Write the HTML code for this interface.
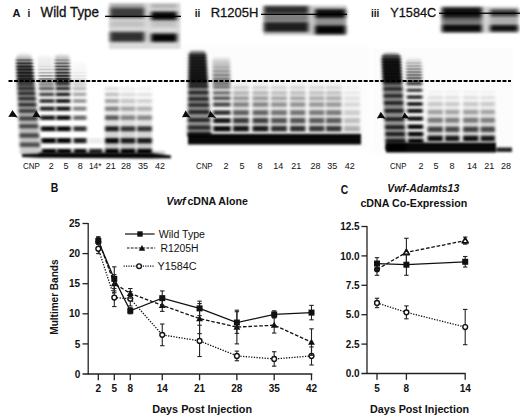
<!DOCTYPE html>
<html><head><meta charset="utf-8"><style>
html,body{margin:0;padding:0;background:#fff;width:520px;height:419px;overflow:hidden}
svg{display:block;font-family:"Liberation Sans", sans-serif}
</style></head><body>
<svg width="520" height="419" viewBox="0 0 520 419" font-family='"Liberation Sans", sans-serif'><defs><linearGradient id="sm1" x1="0" y1="0" x2="0" y2="1"><stop offset="0" stop-color="#000" stop-opacity="0"/><stop offset="0.04" stop-color="#000" stop-opacity="0.15"/><stop offset="0.1" stop-color="#000" stop-opacity="0.55"/><stop offset="0.15" stop-color="#000" stop-opacity="0.75"/><stop offset="0.28" stop-color="#000" stop-opacity="0.8"/><stop offset="0.34" stop-color="#000" stop-opacity="0.5"/><stop offset="0.65" stop-color="#000" stop-opacity="0.3"/><stop offset="1" stop-color="#000" stop-opacity="0.2"/></linearGradient><linearGradient id="sm2" x1="0" y1="0" x2="0" y2="1"><stop offset="0" stop-color="#000" stop-opacity="0"/><stop offset="0.15" stop-color="#000" stop-opacity="0.06"/><stop offset="0.6" stop-color="#000" stop-opacity="0.1"/><stop offset="1" stop-color="#000" stop-opacity="0.12"/></linearGradient><linearGradient id="sm3" x1="0" y1="0" x2="0" y2="1"><stop offset="0" stop-color="#000" stop-opacity="0"/><stop offset="0.1" stop-color="#000" stop-opacity="0.2"/><stop offset="0.4" stop-color="#000" stop-opacity="0.42"/><stop offset="0.8" stop-color="#000" stop-opacity="0.55"/><stop offset="1" stop-color="#000" stop-opacity="0.6"/></linearGradient><linearGradient id="sm3b" x1="0" y1="0" x2="0" y2="1"><stop offset="0" stop-color="#000" stop-opacity="0"/><stop offset="0.3" stop-color="#000" stop-opacity="0.03"/><stop offset="1" stop-color="#000" stop-opacity="0.05"/></linearGradient><linearGradient id="lbg1" x1="0" y1="0" x2="0" y2="1"><stop offset="0" stop-color="#000" stop-opacity="0"/><stop offset="0.3" stop-color="#000" stop-opacity="0.07622222222222223"/><stop offset="1" stop-color="#000" stop-opacity="0.23955555555555552"/></linearGradient><linearGradient id="lbg2" x1="0" y1="0" x2="0" y2="1"><stop offset="0" stop-color="#000" stop-opacity="0"/><stop offset="0.3" stop-color="#000" stop-opacity="0.07544444444444444"/><stop offset="1" stop-color="#000" stop-opacity="0.2371111111111111"/></linearGradient><linearGradient id="lbg3" x1="0" y1="0" x2="0" y2="1"><stop offset="0" stop-color="#000" stop-opacity="0"/><stop offset="0.3" stop-color="#000" stop-opacity="0.07544444444444444"/><stop offset="1" stop-color="#000" stop-opacity="0.2371111111111111"/></linearGradient><linearGradient id="lbg4" x1="0" y1="0" x2="0" y2="1"><stop offset="0" stop-color="#000" stop-opacity="0"/><stop offset="0.3" stop-color="#000" stop-opacity="0.015555555555555557"/><stop offset="1" stop-color="#000" stop-opacity="0.04888888888888889"/></linearGradient><linearGradient id="sm4" x1="0" y1="0" x2="0" y2="1"><stop offset="0" stop-color="#000" stop-opacity="0"/><stop offset="0.03" stop-color="#000" stop-opacity="0.5"/><stop offset="0.07" stop-color="#000" stop-opacity="0.88"/><stop offset="0.36" stop-color="#000" stop-opacity="0.93"/><stop offset="0.43" stop-color="#000" stop-opacity="0.5"/><stop offset="1" stop-color="#000" stop-opacity="0.38"/></linearGradient><linearGradient id="sm5" x1="0" y1="0" x2="0" y2="1"><stop offset="0" stop-color="#000" stop-opacity="0"/><stop offset="0.2" stop-color="#000" stop-opacity="0.2"/><stop offset="0.7" stop-color="#000" stop-opacity="0.38"/><stop offset="1" stop-color="#000" stop-opacity="0.4"/></linearGradient><linearGradient id="lbg5" x1="0" y1="0" x2="0" y2="1"><stop offset="0" stop-color="#000" stop-opacity="0"/><stop offset="0.3" stop-color="#000" stop-opacity="0.0696888888888889"/><stop offset="1" stop-color="#000" stop-opacity="0.21902222222222223"/></linearGradient><linearGradient id="lbg6" x1="0" y1="0" x2="0" y2="1"><stop offset="0" stop-color="#000" stop-opacity="0"/><stop offset="0.3" stop-color="#000" stop-opacity="0.06720000000000001"/><stop offset="1" stop-color="#000" stop-opacity="0.21120000000000003"/></linearGradient><linearGradient id="lbg7" x1="0" y1="0" x2="0" y2="1"><stop offset="0" stop-color="#000" stop-opacity="0"/><stop offset="0.3" stop-color="#000" stop-opacity="0.059111111111111114"/><stop offset="1" stop-color="#000" stop-opacity="0.1857777777777778"/></linearGradient><linearGradient id="lbg8" x1="0" y1="0" x2="0" y2="1"><stop offset="0" stop-color="#000" stop-opacity="0"/><stop offset="0.3" stop-color="#000" stop-opacity="0.059111111111111114"/><stop offset="1" stop-color="#000" stop-opacity="0.1857777777777778"/></linearGradient><linearGradient id="lbg9" x1="0" y1="0" x2="0" y2="1"><stop offset="0" stop-color="#000" stop-opacity="0"/><stop offset="0.3" stop-color="#000" stop-opacity="0.05600000000000001"/><stop offset="1" stop-color="#000" stop-opacity="0.17600000000000002"/></linearGradient><linearGradient id="lbg10" x1="0" y1="0" x2="0" y2="1"><stop offset="0" stop-color="#000" stop-opacity="0"/><stop offset="0.3" stop-color="#000" stop-opacity="0.05600000000000001"/><stop offset="1" stop-color="#000" stop-opacity="0.17600000000000002"/></linearGradient><linearGradient id="lbg11" x1="0" y1="0" x2="0" y2="1"><stop offset="0" stop-color="#000" stop-opacity="0"/><stop offset="0.3" stop-color="#000" stop-opacity="0.019911111111111112"/><stop offset="1" stop-color="#000" stop-opacity="0.06257777777777777"/></linearGradient><linearGradient id="sm6" x1="0" y1="0" x2="0" y2="1"><stop offset="0" stop-color="#000" stop-opacity="0"/><stop offset="0.03" stop-color="#000" stop-opacity="0.6"/><stop offset="0.08" stop-color="#000" stop-opacity="0.93"/><stop offset="0.29" stop-color="#000" stop-opacity="0.95"/><stop offset="0.35" stop-color="#000" stop-opacity="0.5"/><stop offset="1" stop-color="#000" stop-opacity="0.35"/></linearGradient><linearGradient id="sm7" x1="0" y1="0" x2="0" y2="1"><stop offset="0" stop-color="#000" stop-opacity="0"/><stop offset="0.2" stop-color="#000" stop-opacity="0.18"/><stop offset="0.7" stop-color="#000" stop-opacity="0.38"/><stop offset="1" stop-color="#000" stop-opacity="0.4"/></linearGradient><linearGradient id="lbg12" x1="0" y1="0" x2="0" y2="1"><stop offset="0" stop-color="#000" stop-opacity="0"/><stop offset="0.3" stop-color="#000" stop-opacity="0.07155555555555557"/><stop offset="1" stop-color="#000" stop-opacity="0.2248888888888889"/></linearGradient><linearGradient id="lbg13" x1="0" y1="0" x2="0" y2="1"><stop offset="0" stop-color="#000" stop-opacity="0"/><stop offset="0.3" stop-color="#000" stop-opacity="0.06797777777777778"/><stop offset="1" stop-color="#000" stop-opacity="0.21364444444444444"/></linearGradient><linearGradient id="lbg14" x1="0" y1="0" x2="0" y2="1"><stop offset="0" stop-color="#000" stop-opacity="0"/><stop offset="0.3" stop-color="#000" stop-opacity="0.07155555555555557"/><stop offset="1" stop-color="#000" stop-opacity="0.2248888888888889"/></linearGradient><linearGradient id="lbg15" x1="0" y1="0" x2="0" y2="1"><stop offset="0" stop-color="#000" stop-opacity="0"/><stop offset="0.3" stop-color="#000" stop-opacity="0.06797777777777778"/><stop offset="1" stop-color="#000" stop-opacity="0.21364444444444444"/></linearGradient><filter id="b5" x="-20%" y="-20%" width="140%" height="140%"><feGaussianBlur stdDeviation="0.5"/></filter><filter id="b6" x="-20%" y="-20%" width="140%" height="140%"><feGaussianBlur stdDeviation="0.6"/></filter><filter id="b7" x="-20%" y="-20%" width="140%" height="140%"><feGaussianBlur stdDeviation="0.7"/></filter><filter id="b8" x="-20%" y="-20%" width="140%" height="140%"><feGaussianBlur stdDeviation="0.8"/></filter><filter id="b10" x="-20%" y="-20%" width="140%" height="140%"><feGaussianBlur stdDeviation="1.0"/></filter><filter id="b12" x="-20%" y="-20%" width="140%" height="140%"><feGaussianBlur stdDeviation="1.2"/></filter><filter id="b15" x="-20%" y="-20%" width="140%" height="140%"><feGaussianBlur stdDeviation="1.5"/></filter><filter id="b20" x="-20%" y="-20%" width="140%" height="140%"><feGaussianBlur stdDeviation="2.0"/></filter><filter id="f18_15" x="-30%" y="-30%" width="160%" height="160%"><feGaussianBlur stdDeviation="2.0 1.6"/></filter><filter id="ftop" x="-30%" y="-30%" width="160%" height="160%"><feGaussianBlur stdDeviation="1.35 0.4"/></filter><filter id="f12_12" x="-30%" y="-30%" width="160%" height="160%"><feGaussianBlur stdDeviation="1.2 1.2"/></filter><filter id="f14_8" x="-30%" y="-30%" width="160%" height="160%"><feGaussianBlur stdDeviation="1.35 0.8"/></filter></defs><rect width="520" height="419" fill="#fff"/><g filter="url(#b10)">
<rect x="109.00" y="3.00" width="71.50" height="46.00" fill="#000" fill-opacity="0.140" />
</g>
<g filter="url(#f18_15)">
<rect x="110.00" y="4.00" width="34.50" height="4.00" fill="#000" fill-opacity="0.250" />
<rect x="110.00" y="8.00" width="34.50" height="10.00" fill="#000" fill-opacity="0.720" />
<rect x="110.00" y="21.00" width="34.50" height="6.00" fill="#000" fill-opacity="0.120" />
<rect x="110.00" y="31.80" width="34.50" height="10.00" fill="#000" fill-opacity="0.780" />
</g>
<g filter="url(#f18_15)">
<rect x="151.00" y="4.00" width="26.00" height="4.00" fill="#000" fill-opacity="0.200" />
<rect x="151.00" y="11.55" width="26.00" height="8.50" fill="#000" fill-opacity="0.970" />
<rect x="151.00" y="21.00" width="26.00" height="6.00" fill="#000" fill-opacity="0.120" />
<rect x="151.00" y="33.45" width="26.00" height="8.50" fill="#000" fill-opacity="0.980" />
</g>
<g filter="url(#b10)">
<rect x="263.50" y="5.40" width="83.10" height="29.90" fill="#000" fill-opacity="0.200" />
</g>
<g filter="url(#f18_15)">
<rect x="264.00" y="6.00" width="44.50" height="8.00" fill="#000" fill-opacity="0.780" />
<rect x="264.00" y="15.00" width="44.50" height="6.00" fill="#000" fill-opacity="0.400" />
<rect x="264.00" y="22.00" width="44.50" height="10.00" fill="#000" fill-opacity="0.850" />
</g>
<g filter="url(#f18_15)">
<rect x="315.00" y="9.00" width="30.50" height="9.00" fill="#000" fill-opacity="0.940" />
<rect x="315.00" y="18.50" width="30.50" height="6.00" fill="#000" fill-opacity="0.300" />
<rect x="315.00" y="25.30" width="30.50" height="9.00" fill="#000" fill-opacity="0.980" />
</g>
<g filter="url(#b10)">
<rect x="441.00" y="6.50" width="77.50" height="26.50" fill="#000" fill-opacity="0.160" />
</g>
<g filter="url(#f18_15)">
<rect x="442.00" y="7.25" width="40.00" height="10.50" fill="#000" fill-opacity="0.930" />
<rect x="442.00" y="18.00" width="40.00" height="5.00" fill="#000" fill-opacity="0.500" />
<rect x="442.00" y="24.20" width="40.00" height="8.00" fill="#000" fill-opacity="0.950" />
</g>
<g filter="url(#f18_15)">
<rect x="490.00" y="9.25" width="28.00" height="7.50" fill="#000" fill-opacity="0.720" />
<rect x="490.00" y="18.00" width="28.00" height="5.00" fill="#000" fill-opacity="0.200" />
<rect x="490.00" y="24.70" width="28.00" height="7.00" fill="#000" fill-opacity="0.920" />
</g>
<rect x="105.00" y="15.70" width="76.00" height="1.30" fill="#000" fill-opacity="1.000" />
<rect x="261.00" y="13.70" width="86.00" height="1.30" fill="#000" fill-opacity="1.000" />
<rect x="439.00" y="12.60" width="81.00" height="1.30" fill="#000" fill-opacity="1.000" />
<g filter="url(#b20)">
<rect x="183.00" y="44.00" width="186.00" height="104.00" fill="#000" fill-opacity="0.012" />
<rect x="372.00" y="48.00" width="141.00" height="106.00" fill="#000" fill-opacity="0.012" />
</g>
<g filter="url(#f14_8)">
<path d="M20.11,154.00 L16.13,60.00 Q16.13,52.00 24.13,52.00 L24.02,52.00 Q32.02,52.00 32.02,60.00 L40.90,154.00 Z" fill="url(#sm1)"/>
<path d="M17.35,83.45 L34.76,83.45 L34.94,85.55 L17.44,85.55 Z" fill="#000" fill-opacity="0.600"/>
<path d="M17.49,87.05 L35.07,87.05 L35.33,89.95 L17.61,89.95 Z" fill="#000" fill-opacity="0.680"/>
<path d="M17.68,91.85 L35.49,91.85 L35.76,94.95 L17.80,94.95 Z" fill="#000" fill-opacity="0.700"/>
<path d="M17.88,97.05 L35.94,97.05 L36.23,100.35 L18.01,100.35 Z" fill="#000" fill-opacity="0.700"/>
<path d="M18.12,102.95 L36.46,102.95 L36.76,106.45 L18.25,106.45 Z" fill="#000" fill-opacity="0.700"/>
<path d="M18.36,109.15 L37.00,109.15 L37.32,112.85 L18.50,112.85 Z" fill="#000" fill-opacity="0.680"/>
<path d="M18.65,116.55 L37.64,116.55 L37.98,120.45 L18.80,120.45 Z" fill="#000" fill-opacity="0.650"/>
<path d="M18.95,124.25 L38.31,124.25 L38.67,128.35 L19.11,128.35 Z" fill="#000" fill-opacity="0.620"/>
<path d="M19.30,133.25 L39.09,133.25 L39.48,137.75 L19.47,137.75 Z" fill="#000" fill-opacity="0.620"/>
<path d="M19.66,142.45 L39.89,142.45 L40.28,146.95 L19.83,146.95 Z" fill="#000" fill-opacity="0.600"/>
</g>
<g filter="url(#ftop)">
<path d="M16.41,59.25 L32.65,59.25 L32.79,60.75 L16.47,60.75 Z" fill="#000" fill-opacity="0.350"/>
<path d="M16.54,62.45 L32.93,62.45 L33.06,63.95 L16.59,63.95 Z" fill="#000" fill-opacity="0.450"/>
<path d="M16.66,65.65 L33.21,65.65 L33.34,67.15 L16.72,67.15 Z" fill="#000" fill-opacity="0.500"/>
<path d="M16.79,68.85 L33.49,68.85 L33.62,70.35 L16.84,70.35 Z" fill="#000" fill-opacity="0.500"/>
<path d="M16.91,72.05 L33.77,72.05 L33.90,73.55 L16.97,73.55 Z" fill="#000" fill-opacity="0.500"/>
<path d="M17.03,75.15 L34.04,75.15 L34.17,76.65 L17.09,76.65 Z" fill="#000" fill-opacity="0.500"/>
<path d="M17.15,78.25 L34.31,78.25 L34.44,79.75 L17.21,79.75 Z" fill="#000" fill-opacity="0.500"/>
<path d="M17.25,80.75 L34.53,80.75 L34.66,82.25 L17.31,82.25 Z" fill="#000" fill-opacity="0.500"/>
</g>
<g filter="url(#f14_8)">
<path d="M38.83,85.00 L37.43,59.00 Q37.43,54.00 42.43,54.00 L47.71,54.00 Q52.71,54.00 52.71,59.00 L53.91,85.00 Z" fill="url(#sm2)"/>
<path d="M38.73,82.95 L53.84,82.95 L53.93,85.45 L38.85,85.45 Z" fill="#000" fill-opacity="0.550"/>
<path d="M38.91,86.85 L53.99,86.85 L54.12,90.15 L39.06,90.15 Z" fill="#000" fill-opacity="0.650"/>
<path d="M39.17,92.60 L54.21,92.60 L54.35,96.20 L39.33,96.20 Z" fill="#000" fill-opacity="0.720"/>
<path d="M39.46,99.05 L54.46,99.05 L54.62,102.95 L39.63,102.95 Z" fill="#000" fill-opacity="0.780"/>
<path d="M39.80,106.60 L54.76,106.60 L54.92,110.80 L39.99,110.80 Z" fill="#000" fill-opacity="0.850"/>
<path d="M40.19,115.40 L55.10,115.40 L55.28,120.00 L40.40,120.00 Z" fill="#000" fill-opacity="0.900"/>
<path d="M40.68,126.25 L55.52,126.25 L55.72,131.35 L40.91,131.35 Z" fill="#000" fill-opacity="0.950"/>
<path d="M41.21,138.05 L55.98,138.05 L56.19,143.35 L41.45,143.35 Z" fill="#000" fill-opacity="0.970"/>
<path d="M41.69,148.75 L56.40,148.75 L56.60,153.85 L41.92,153.85 Z" fill="#000" fill-opacity="0.970"/>
</g>
<g filter="url(#ftop)">
<path d="M37.96,65.70 L53.16,65.70 L53.22,67.10 L38.02,67.10 Z" fill="#000" fill-opacity="0.050"/>
<path d="M38.10,68.85 L53.29,68.85 L53.34,70.35 L38.17,70.35 Z" fill="#000" fill-opacity="0.120"/>
<path d="M38.24,72.00 L53.41,72.00 L53.47,73.60 L38.31,73.60 Z" fill="#000" fill-opacity="0.220"/>
<path d="M38.38,75.05 L53.53,75.05 L53.59,76.75 L38.45,76.75 Z" fill="#000" fill-opacity="0.320"/>
<path d="M38.51,78.10 L53.65,78.10 L53.72,79.90 L38.60,79.90 Z" fill="#000" fill-opacity="0.400"/>
<path d="M38.62,80.50 L53.74,80.50 L53.82,82.50 L38.71,82.50 Z" fill="#000" fill-opacity="0.450"/>
</g>
<g filter="url(#f14_8)">
<path d="M55.55,85.00 L54.83,58.50 Q54.83,53.50 59.83,53.50 L64.46,53.50 Q69.46,53.50 69.46,58.50 L70.03,85.00 Z" fill="url(#sm3)"/>
<path d="M55.51,82.95 L69.99,82.95 L70.04,85.45 L55.57,85.45 Z" fill="#000" fill-opacity="0.750"/>
<path d="M55.60,86.85 L70.06,86.85 L70.12,90.15 L55.67,90.15 Z" fill="#000" fill-opacity="0.850"/>
<path d="M55.73,92.60 L70.17,92.60 L70.23,96.20 L55.81,96.20 Z" fill="#000" fill-opacity="0.880"/>
<path d="M55.88,99.05 L70.28,99.05 L70.35,102.95 L55.97,102.95 Z" fill="#000" fill-opacity="0.900"/>
<path d="M56.05,106.60 L70.42,106.60 L70.49,110.80 L56.15,110.80 Z" fill="#000" fill-opacity="0.920"/>
<path d="M56.25,115.40 L70.58,115.40 L70.66,120.00 L56.36,120.00 Z" fill="#000" fill-opacity="0.950"/>
<path d="M56.50,126.25 L70.77,126.25 L70.86,131.35 L56.62,131.35 Z" fill="#000" fill-opacity="0.970"/>
<path d="M56.78,138.05 L70.98,138.05 L71.08,143.35 L56.90,143.35 Z" fill="#000" fill-opacity="0.970"/>
<path d="M57.02,148.75 L71.18,148.75 L71.27,153.85 L57.14,153.85 Z" fill="#000" fill-opacity="0.970"/>
</g>
<g filter="url(#ftop)">
<path d="M54.96,59.30 L69.57,59.30 L69.59,60.70 L55.00,60.70 Z" fill="#000" fill-opacity="0.200"/>
<path d="M55.04,62.50 L69.62,62.50 L69.65,63.90 L55.07,63.90 Z" fill="#000" fill-opacity="0.350"/>
<path d="M55.11,65.70 L69.68,65.70 L69.71,67.10 L55.14,67.10 Z" fill="#000" fill-opacity="0.450"/>
<path d="M55.18,68.85 L69.74,68.85 L69.77,70.35 L55.22,70.35 Z" fill="#000" fill-opacity="0.500"/>
<path d="M55.26,72.00 L69.80,72.00 L69.82,73.60 L55.29,73.60 Z" fill="#000" fill-opacity="0.550"/>
<path d="M55.33,75.05 L69.85,75.05 L69.88,76.75 L55.37,76.75 Z" fill="#000" fill-opacity="0.600"/>
<path d="M55.40,78.10 L69.91,78.10 L69.94,79.90 L55.44,79.90 Z" fill="#000" fill-opacity="0.650"/>
<path d="M55.45,80.50 L69.95,80.50 L69.98,82.50 L55.50,82.50 Z" fill="#000" fill-opacity="0.650"/>
</g>
<g filter="url(#f14_8)">
<path d="M72.79,85.00 L72.44,64.00 Q72.44,60.00 76.44,60.00 L82.02,60.00 Q86.02,60.00 86.02,64.00 L86.19,85.00 Z" fill="url(#sm3b)"/>
<path d="M72.76,82.95 L86.18,82.95 L86.20,85.45 L72.80,85.45 Z" fill="#000" fill-opacity="0.200"/>
<path d="M72.82,86.85 L86.21,86.85 L86.23,90.15 L72.86,90.15 Z" fill="#000" fill-opacity="0.280"/>
<path d="M72.90,92.60 L86.25,92.60 L86.27,96.20 L72.95,96.20 Z" fill="#000" fill-opacity="0.340"/>
<path d="M72.99,99.05 L86.29,99.05 L86.32,102.95 L73.04,102.95 Z" fill="#000" fill-opacity="0.400"/>
<path d="M73.09,106.60 L86.35,106.60 L86.38,110.80 L73.15,110.80 Z" fill="#000" fill-opacity="0.480"/>
<path d="M73.22,115.40 L86.41,115.40 L86.44,120.00 L73.28,120.00 Z" fill="#000" fill-opacity="0.580"/>
<path d="M73.37,126.25 L86.48,126.25 L86.52,131.35 L73.44,131.35 Z" fill="#000" fill-opacity="0.800"/>
<path d="M73.53,138.05 L86.57,138.05 L86.60,143.35 L73.61,143.35 Z" fill="#000" fill-opacity="0.880"/>
<path d="M73.68,148.75 L86.64,148.75 L86.68,153.85 L73.75,153.85 Z" fill="#000" fill-opacity="0.950"/>
</g>
<g filter="url(#ftop)">
<path d="M72.61,72.00 L86.10,72.00 L86.12,73.60 L72.63,73.60 Z" fill="#000" fill-opacity="0.040"/>
<path d="M72.65,75.05 L86.13,75.05 L86.14,76.75 L72.67,76.75 Z" fill="#000" fill-opacity="0.060"/>
<path d="M72.69,78.10 L86.15,78.10 L86.16,79.90 L72.72,79.90 Z" fill="#000" fill-opacity="0.080"/>
<path d="M72.73,80.50 L86.16,80.50 L86.18,82.50 L72.75,82.50 Z" fill="#000" fill-opacity="0.120"/>
</g>
<g filter="url(#f14_8)">
<path d="M89.00,138.05 L102.50,138.05 L102.50,143.35 L89.00,143.35 Z" fill="#000" fill-opacity="0.080"/>
<path d="M89.00,148.75 L102.50,148.75 L102.50,153.85 L89.00,153.85 Z" fill="#000" fill-opacity="0.850"/>
</g>
<g filter="url(#f14_8)">
<path d="M105.00,154.30 L105.00,86.50 Q105.00,86.50 105.00,86.50 L119.00,86.50 Q119.00,86.50 119.00,86.50 L119.00,154.30 Z" fill="url(#lbg1)"/>
<path d="M105.00,86.85 L119.00,86.85 L119.00,90.15 L105.00,90.15 Z" fill="#000" fill-opacity="0.120"/>
<path d="M105.00,92.60 L119.00,92.60 L119.00,96.20 L105.00,96.20 Z" fill="#000" fill-opacity="0.220"/>
<path d="M105.00,99.05 L119.00,99.05 L119.00,102.95 L105.00,102.95 Z" fill="#000" fill-opacity="0.330"/>
<path d="M105.00,106.60 L119.00,106.60 L119.00,110.80 L105.00,110.80 Z" fill="#000" fill-opacity="0.450"/>
<path d="M105.00,115.40 L119.00,115.40 L119.00,120.00 L105.00,120.00 Z" fill="#000" fill-opacity="0.600"/>
<path d="M105.00,126.25 L119.00,126.25 L119.00,131.35 L105.00,131.35 Z" fill="#000" fill-opacity="0.850"/>
<path d="M105.00,138.05 L119.00,138.05 L119.00,143.35 L105.00,143.35 Z" fill="#000" fill-opacity="0.950"/>
<path d="M105.00,148.75 L119.00,148.75 L119.00,153.85 L105.00,153.85 Z" fill="#000" fill-opacity="0.980"/>
</g>
<g filter="url(#f14_8)">
<path d="M120.50,154.30 L120.50,86.50 Q120.50,86.50 120.50,86.50 L135.50,86.50 Q135.50,86.50 135.50,86.50 L135.50,154.30 Z" fill="url(#lbg2)"/>
<path d="M120.50,86.85 L135.50,86.85 L135.50,90.15 L120.50,90.15 Z" fill="#000" fill-opacity="0.060"/>
<path d="M120.50,92.60 L135.50,92.60 L135.50,96.20 L120.50,96.20 Z" fill="#000" fill-opacity="0.100"/>
<path d="M120.50,99.05 L135.50,99.05 L135.50,102.95 L120.50,102.95 Z" fill="#000" fill-opacity="0.180"/>
<path d="M120.50,106.60 L135.50,106.60 L135.50,110.80 L120.50,110.80 Z" fill="#000" fill-opacity="0.300"/>
<path d="M120.50,115.40 L135.50,115.40 L135.50,120.00 L120.50,120.00 Z" fill="#000" fill-opacity="0.420"/>
<path d="M120.50,126.25 L135.50,126.25 L135.50,131.35 L120.50,131.35 Z" fill="#000" fill-opacity="0.750"/>
<path d="M120.50,138.05 L135.50,138.05 L135.50,143.35 L120.50,143.35 Z" fill="#000" fill-opacity="0.870"/>
<path d="M120.50,148.75 L135.50,148.75 L135.50,153.85 L120.50,153.85 Z" fill="#000" fill-opacity="0.970"/>
</g>
<g filter="url(#f14_8)">
<path d="M137.00,154.30 L137.00,92.40 Q137.00,92.40 137.00,92.40 L152.00,92.40 Q152.00,92.40 152.00,92.40 L152.00,154.30 Z" fill="url(#lbg3)"/>
<path d="M137.00,86.85 L152.00,86.85 L152.00,90.15 L137.00,90.15 Z" fill="#000" fill-opacity="0.050"/>
<path d="M137.00,92.60 L152.00,92.60 L152.00,96.20 L137.00,96.20 Z" fill="#000" fill-opacity="0.100"/>
<path d="M137.00,99.05 L152.00,99.05 L152.00,102.95 L137.00,102.95 Z" fill="#000" fill-opacity="0.150"/>
<path d="M137.00,106.60 L152.00,106.60 L152.00,110.80 L137.00,110.80 Z" fill="#000" fill-opacity="0.250"/>
<path d="M137.00,115.40 L152.00,115.40 L152.00,120.00 L137.00,120.00 Z" fill="#000" fill-opacity="0.400"/>
<path d="M137.00,126.25 L152.00,126.25 L152.00,131.35 L137.00,131.35 Z" fill="#000" fill-opacity="0.750"/>
<path d="M137.00,138.05 L152.00,138.05 L152.00,143.35 L137.00,143.35 Z" fill="#000" fill-opacity="0.870"/>
<path d="M137.00,148.75 L152.00,148.75 L152.00,153.85 L137.00,153.85 Z" fill="#000" fill-opacity="0.970"/>
</g>
<g filter="url(#f14_8)">
<path d="M152.50,155.60 L152.50,150.60 Q152.50,150.60 152.50,150.60 L165.00,150.60 Q165.00,150.60 165.00,150.60 L165.00,155.60 Z" fill="url(#lbg4)"/>
<path d="M152.50,150.85 L165.00,150.85 L165.00,154.35 L152.50,154.35 Z" fill="#000" fill-opacity="0.200"/>
</g>
<g filter="url(#f12_12)">
<polygon points="22,154 38,153.6 40,152.6 150,152.8 171,155.4 171,158.2 150,158.4 40,157.8 22,157.0" fill="#000" fill-opacity="0.97"/>
</g>
<g filter="url(#f14_8)">
<path d="M187.44,137.00 L188.76,55.50 Q188.76,49.50 194.76,49.50 L200.22,49.50 Q206.22,49.50 206.22,55.50 L211.38,137.00 Z" fill="url(#sm4)"/>
<path d="M188.28,81.60 L208.11,81.60 L208.23,83.60 L188.25,83.60 Z" fill="#000" fill-opacity="0.600"/>
<path d="M188.23,84.85 L208.31,84.85 L208.49,87.95 L188.18,87.95 Z" fill="#000" fill-opacity="0.700"/>
<path d="M188.14,90.95 L208.67,90.95 L208.86,94.25 L188.09,94.25 Z" fill="#000" fill-opacity="0.720"/>
<path d="M188.04,97.15 L209.03,97.15 L209.24,100.65 L187.99,100.65 Z" fill="#000" fill-opacity="0.720"/>
<path d="M187.95,103.15 L209.39,103.15 L209.60,106.85 L187.90,106.85 Z" fill="#000" fill-opacity="0.720"/>
<path d="M187.85,110.05 L209.79,110.05 L210.02,113.95 L187.79,113.95 Z" fill="#000" fill-opacity="0.720"/>
<path d="M187.73,117.95 L210.26,117.95 L210.50,122.05 L187.67,122.05 Z" fill="#000" fill-opacity="0.720"/>
<path d="M187.62,125.55 L210.71,125.55 L210.96,129.85 L187.55,129.85 Z" fill="#000" fill-opacity="0.720"/>
<path d="M187.52,131.85 L211.08,131.85 L211.33,136.15 L187.46,136.15 Z" fill="#000" fill-opacity="0.720"/>
</g>
<g filter="url(#ftop)">
<path d="M188.69,54.00 L206.49,54.00 L206.60,56.00 L188.66,56.00 Z" fill="#000" fill-opacity="0.100"/>
<path d="M188.65,57.00 L206.66,57.00 L206.78,59.00 L188.62,59.00 Z" fill="#000" fill-opacity="0.100"/>
<path d="M188.60,60.00 L206.84,60.00 L206.96,62.00 L188.57,62.00 Z" fill="#000" fill-opacity="0.100"/>
<path d="M188.56,63.00 L207.02,63.00 L207.13,65.00 L188.53,65.00 Z" fill="#000" fill-opacity="0.100"/>
<path d="M188.51,66.00 L207.19,66.00 L207.31,68.00 L188.48,68.00 Z" fill="#000" fill-opacity="0.100"/>
<path d="M188.47,69.00 L207.37,69.00 L207.49,71.00 L188.44,71.00 Z" fill="#000" fill-opacity="0.100"/>
<path d="M188.42,72.00 L207.55,72.00 L207.67,74.00 L188.39,74.00 Z" fill="#000" fill-opacity="0.100"/>
<path d="M188.38,75.00 L207.72,75.00 L207.84,77.00 L188.34,77.00 Z" fill="#000" fill-opacity="0.100"/>
<path d="M188.33,78.00 L207.90,78.00 L208.02,80.00 L188.30,80.00 Z" fill="#000" fill-opacity="0.100"/>
</g>
<g filter="url(#f14_8)">
<path d="M212.83,86.00 L212.47,60.00 Q212.47,56.00 216.47,56.00 L225.97,56.00 Q229.97,56.00 229.97,60.00 L230.33,86.00 Z" fill="url(#sm5)"/>
<path d="M212.78,81.95 L230.28,81.95 L230.31,84.05 L212.81,84.05 Z" fill="#000" fill-opacity="0.300"/>
<path d="M212.83,85.85 L230.33,85.85 L230.37,89.15 L212.87,89.15 Z" fill="#000" fill-opacity="0.500"/>
<path d="M212.89,91.05 L230.39,91.05 L230.44,94.75 L212.94,94.75 Z" fill="#000" fill-opacity="0.550"/>
<path d="M212.96,96.25 L230.46,96.25 L230.50,100.35 L213.00,100.35 Z" fill="#000" fill-opacity="0.650"/>
<path d="M213.03,102.25 L230.53,102.25 L230.58,106.75 L213.08,106.75 Z" fill="#000" fill-opacity="0.700"/>
<path d="M213.12,110.15 L230.62,110.15 L230.68,115.05 L213.18,115.05 Z" fill="#000" fill-opacity="0.800"/>
<path d="M213.22,117.95 L230.72,117.95 L230.78,123.25 L213.28,123.25 Z" fill="#000" fill-opacity="0.900"/>
<path d="M213.31,125.95 L230.81,125.95 L230.88,131.45 L213.38,131.45 Z" fill="#000" fill-opacity="0.950"/>
</g>
<g filter="url(#ftop)">
<path d="M212.59,66.25 L230.09,66.25 L230.11,67.75 L212.61,67.75 Z" fill="#000" fill-opacity="0.060"/>
<path d="M212.64,70.25 L230.14,70.25 L230.16,71.75 L212.66,71.75 Z" fill="#000" fill-opacity="0.100"/>
<path d="M212.69,74.20 L230.19,74.20 L230.21,75.80 L212.71,75.80 Z" fill="#000" fill-opacity="0.150"/>
<path d="M212.74,78.15 L230.24,78.15 L230.26,79.85 L212.76,79.85 Z" fill="#000" fill-opacity="0.200"/>
</g>
<g filter="url(#f14_8)">
<path d="M233.00,131.70 L233.00,81.00 Q233.00,81.00 233.00,81.00 L249.00,81.00 Q249.00,81.00 249.00,81.00 L249.00,131.70 Z" fill="url(#lbg5)"/>
<path d="M233.00,81.95 L249.00,81.95 L249.00,84.05 L233.00,84.05 Z" fill="#000" fill-opacity="0.067"/>
<path d="M233.00,85.85 L249.00,85.85 L249.00,89.15 L233.00,89.15 Z" fill="#000" fill-opacity="0.157"/>
<path d="M233.00,91.05 L249.00,91.05 L249.00,94.75 L233.00,94.75 Z" fill="#000" fill-opacity="0.246"/>
<path d="M233.00,96.25 L249.00,96.25 L249.00,100.35 L233.00,100.35 Z" fill="#000" fill-opacity="0.336"/>
<path d="M233.00,102.25 L249.00,102.25 L249.00,106.75 L233.00,106.75 Z" fill="#000" fill-opacity="0.426"/>
<path d="M233.00,110.15 L249.00,110.15 L249.00,115.05 L233.00,115.05 Z" fill="#000" fill-opacity="0.560"/>
<path d="M233.00,117.95 L249.00,117.95 L249.00,123.25 L233.00,123.25 Z" fill="#000" fill-opacity="0.717"/>
<path d="M233.00,125.95 L249.00,125.95 L249.00,131.45 L233.00,131.45 Z" fill="#000" fill-opacity="0.896"/>
</g>
<g filter="url(#f14_8)">
<path d="M252.50,131.70 L252.50,81.00 Q252.50,81.00 252.50,81.00 L268.50,81.00 Q268.50,81.00 268.50,81.00 L268.50,131.70 Z" fill="url(#lbg6)"/>
<path d="M252.50,81.95 L268.50,81.95 L268.50,84.05 L252.50,84.05 Z" fill="#000" fill-opacity="0.065"/>
<path d="M252.50,85.85 L268.50,85.85 L268.50,89.15 L252.50,89.15 Z" fill="#000" fill-opacity="0.151"/>
<path d="M252.50,91.05 L268.50,91.05 L268.50,94.75 L252.50,94.75 Z" fill="#000" fill-opacity="0.238"/>
<path d="M252.50,96.25 L268.50,96.25 L268.50,100.35 L252.50,100.35 Z" fill="#000" fill-opacity="0.324"/>
<path d="M252.50,102.25 L268.50,102.25 L268.50,106.75 L252.50,106.75 Z" fill="#000" fill-opacity="0.410"/>
<path d="M252.50,110.15 L268.50,110.15 L268.50,115.05 L252.50,115.05 Z" fill="#000" fill-opacity="0.540"/>
<path d="M252.50,117.95 L268.50,117.95 L268.50,123.25 L252.50,123.25 Z" fill="#000" fill-opacity="0.691"/>
<path d="M252.50,125.95 L268.50,125.95 L268.50,131.45 L252.50,131.45 Z" fill="#000" fill-opacity="0.864"/>
</g>
<g filter="url(#f14_8)">
<path d="M271.00,131.70 L271.00,81.00 Q271.00,81.00 271.00,81.00 L287.00,81.00 Q287.00,81.00 287.00,81.00 L287.00,131.70 Z" fill="url(#lbg7)"/>
<path d="M271.00,81.95 L287.00,81.95 L287.00,84.05 L271.00,84.05 Z" fill="#000" fill-opacity="0.057"/>
<path d="M271.00,85.85 L287.00,85.85 L287.00,89.15 L271.00,89.15 Z" fill="#000" fill-opacity="0.133"/>
<path d="M271.00,91.05 L287.00,91.05 L287.00,94.75 L271.00,94.75 Z" fill="#000" fill-opacity="0.209"/>
<path d="M271.00,96.25 L287.00,96.25 L287.00,100.35 L271.00,100.35 Z" fill="#000" fill-opacity="0.285"/>
<path d="M271.00,102.25 L287.00,102.25 L287.00,106.75 L271.00,106.75 Z" fill="#000" fill-opacity="0.361"/>
<path d="M271.00,110.15 L287.00,110.15 L287.00,115.05 L271.00,115.05 Z" fill="#000" fill-opacity="0.475"/>
<path d="M271.00,117.95 L287.00,117.95 L287.00,123.25 L271.00,123.25 Z" fill="#000" fill-opacity="0.608"/>
<path d="M271.00,125.95 L287.00,125.95 L287.00,131.45 L271.00,131.45 Z" fill="#000" fill-opacity="0.760"/>
</g>
<g filter="url(#f14_8)">
<path d="M290.00,131.70 L290.00,81.00 Q290.00,81.00 290.00,81.00 L305.50,81.00 Q305.50,81.00 305.50,81.00 L305.50,131.70 Z" fill="url(#lbg8)"/>
<path d="M290.00,81.95 L305.50,81.95 L305.50,84.05 L290.00,84.05 Z" fill="#000" fill-opacity="0.057"/>
<path d="M290.00,85.85 L305.50,85.85 L305.50,89.15 L290.00,89.15 Z" fill="#000" fill-opacity="0.133"/>
<path d="M290.00,91.05 L305.50,91.05 L305.50,94.75 L290.00,94.75 Z" fill="#000" fill-opacity="0.209"/>
<path d="M290.00,96.25 L305.50,96.25 L305.50,100.35 L290.00,100.35 Z" fill="#000" fill-opacity="0.285"/>
<path d="M290.00,102.25 L305.50,102.25 L305.50,106.75 L290.00,106.75 Z" fill="#000" fill-opacity="0.361"/>
<path d="M290.00,110.15 L305.50,110.15 L305.50,115.05 L290.00,115.05 Z" fill="#000" fill-opacity="0.475"/>
<path d="M290.00,117.95 L305.50,117.95 L305.50,123.25 L290.00,123.25 Z" fill="#000" fill-opacity="0.608"/>
<path d="M290.00,125.95 L305.50,125.95 L305.50,131.45 L290.00,131.45 Z" fill="#000" fill-opacity="0.760"/>
</g>
<g filter="url(#f14_8)">
<path d="M309.00,131.70 L309.00,81.00 Q309.00,81.00 309.00,81.00 L324.50,81.00 Q324.50,81.00 324.50,81.00 L324.50,131.70 Z" fill="url(#lbg9)"/>
<path d="M309.00,81.95 L324.50,81.95 L324.50,84.05 L309.00,84.05 Z" fill="#000" fill-opacity="0.054"/>
<path d="M309.00,85.85 L324.50,85.85 L324.50,89.15 L309.00,89.15 Z" fill="#000" fill-opacity="0.126"/>
<path d="M309.00,91.05 L324.50,91.05 L324.50,94.75 L309.00,94.75 Z" fill="#000" fill-opacity="0.198"/>
<path d="M309.00,96.25 L324.50,96.25 L324.50,100.35 L309.00,100.35 Z" fill="#000" fill-opacity="0.270"/>
<path d="M309.00,102.25 L324.50,102.25 L324.50,106.75 L309.00,106.75 Z" fill="#000" fill-opacity="0.342"/>
<path d="M309.00,110.15 L324.50,110.15 L324.50,115.05 L309.00,115.05 Z" fill="#000" fill-opacity="0.450"/>
<path d="M309.00,117.95 L324.50,117.95 L324.50,123.25 L309.00,123.25 Z" fill="#000" fill-opacity="0.576"/>
<path d="M309.00,125.95 L324.50,125.95 L324.50,131.45 L309.00,131.45 Z" fill="#000" fill-opacity="0.720"/>
</g>
<g filter="url(#f14_8)">
<path d="M326.00,131.70 L326.00,81.00 Q326.00,81.00 326.00,81.00 L341.50,81.00 Q341.50,81.00 341.50,81.00 L341.50,131.70 Z" fill="url(#lbg10)"/>
<path d="M326.00,81.95 L341.50,81.95 L341.50,84.05 L326.00,84.05 Z" fill="#000" fill-opacity="0.054"/>
<path d="M326.00,85.85 L341.50,85.85 L341.50,89.15 L326.00,89.15 Z" fill="#000" fill-opacity="0.126"/>
<path d="M326.00,91.05 L341.50,91.05 L341.50,94.75 L326.00,94.75 Z" fill="#000" fill-opacity="0.198"/>
<path d="M326.00,96.25 L341.50,96.25 L341.50,100.35 L326.00,100.35 Z" fill="#000" fill-opacity="0.270"/>
<path d="M326.00,102.25 L341.50,102.25 L341.50,106.75 L326.00,106.75 Z" fill="#000" fill-opacity="0.342"/>
<path d="M326.00,110.15 L341.50,110.15 L341.50,115.05 L326.00,115.05 Z" fill="#000" fill-opacity="0.450"/>
<path d="M326.00,117.95 L341.50,117.95 L341.50,123.25 L326.00,123.25 Z" fill="#000" fill-opacity="0.576"/>
<path d="M326.00,125.95 L341.50,125.95 L341.50,131.45 L326.00,131.45 Z" fill="#000" fill-opacity="0.720"/>
</g>
<g filter="url(#f14_8)">
<path d="M344.00,131.70 L344.00,90.90 Q344.00,90.90 344.00,90.90 L360.00,90.90 Q360.00,90.90 360.00,90.90 L360.00,131.70 Z" fill="url(#lbg11)"/>
<path d="M344.00,81.95 L360.00,81.95 L360.00,84.05 L344.00,84.05 Z" fill="#000" fill-opacity="0.019"/>
<path d="M344.00,85.85 L360.00,85.85 L360.00,89.15 L344.00,89.15 Z" fill="#000" fill-opacity="0.045"/>
<path d="M344.00,91.05 L360.00,91.05 L360.00,94.75 L344.00,94.75 Z" fill="#000" fill-opacity="0.070"/>
<path d="M344.00,96.25 L360.00,96.25 L360.00,100.35 L344.00,100.35 Z" fill="#000" fill-opacity="0.096"/>
<path d="M344.00,102.25 L360.00,102.25 L360.00,106.75 L344.00,106.75 Z" fill="#000" fill-opacity="0.122"/>
<path d="M344.00,110.15 L360.00,110.15 L360.00,115.05 L344.00,115.05 Z" fill="#000" fill-opacity="0.160"/>
<path d="M344.00,117.95 L360.00,117.95 L360.00,123.25 L344.00,123.25 Z" fill="#000" fill-opacity="0.205"/>
<path d="M344.00,125.95 L360.00,125.95 L360.00,131.45 L344.00,131.45 Z" fill="#000" fill-opacity="0.256"/>
</g>
<g filter="url(#f12_12)">
<rect x="188.00" y="133.80" width="173.00" height="10.70" fill="#000" fill-opacity="0.970" />
</g>
<g filter="url(#f14_8)">
<path d="M385.85,150.00 L381.64,59.00 Q381.64,52.00 388.64,52.00 L393.62,52.00 Q400.62,52.00 400.62,59.00 L406.30,150.00 Z" fill="url(#sm6)"/>
<path d="M382.90,81.35 L402.32,81.35 L402.45,83.65 L383.00,83.65 Z" fill="#000" fill-opacity="0.500"/>
<path d="M383.16,87.35 L402.67,87.35 L402.85,90.45 L383.29,90.45 Z" fill="#000" fill-opacity="0.720"/>
<path d="M383.45,94.15 L403.06,94.15 L403.25,97.45 L383.59,97.45 Z" fill="#000" fill-opacity="0.750"/>
<path d="M383.75,101.25 L403.47,101.25 L403.68,104.75 L383.90,104.75 Z" fill="#000" fill-opacity="0.780"/>
<path d="M384.09,109.05 L403.92,109.05 L404.14,112.75 L384.25,112.75 Z" fill="#000" fill-opacity="0.800"/>
<path d="M384.44,117.15 L404.39,117.15 L404.62,121.05 L384.61,121.05 Z" fill="#000" fill-opacity="0.800"/>
<path d="M384.79,125.25 L404.86,125.25 L405.10,129.35 L384.96,129.35 Z" fill="#000" fill-opacity="0.800"/>
<path d="M385.08,132.05 L405.26,132.05 L405.51,136.35 L385.26,136.35 Z" fill="#000" fill-opacity="0.800"/>
<path d="M385.37,138.75 L405.65,138.75 L405.91,143.25 L385.56,143.25 Z" fill="#000" fill-opacity="0.850"/>
<path d="M385.62,144.75 L406.00,144.75 L406.31,150.25 L385.86,150.25 Z" fill="#000" fill-opacity="0.950"/>
</g>
<g filter="url(#ftop)">
<path d="M381.78,55.25 L400.80,55.25 L400.89,56.75 L381.84,56.75 Z" fill="#000" fill-opacity="0.200"/>
<path d="M381.90,58.25 L400.98,58.25 L401.07,59.75 L381.97,59.75 Z" fill="#000" fill-opacity="0.200"/>
<path d="M382.03,61.25 L401.15,61.25 L401.24,62.75 L382.10,62.75 Z" fill="#000" fill-opacity="0.200"/>
<path d="M382.16,64.25 L401.33,64.25 L401.41,65.75 L382.23,65.75 Z" fill="#000" fill-opacity="0.200"/>
<path d="M382.29,67.25 L401.50,67.25 L401.59,68.75 L382.36,68.75 Z" fill="#000" fill-opacity="0.200"/>
<path d="M382.42,70.25 L401.67,70.25 L401.76,71.75 L382.49,71.75 Z" fill="#000" fill-opacity="0.200"/>
<path d="M382.55,73.25 L401.85,73.25 L401.94,74.75 L382.61,74.75 Z" fill="#000" fill-opacity="0.200"/>
<path d="M382.68,76.25 L402.02,76.25 L402.11,77.75 L382.74,77.75 Z" fill="#000" fill-opacity="0.200"/>
<path d="M382.81,79.25 L402.20,79.25 L402.28,80.75 L382.87,80.75 Z" fill="#000" fill-opacity="0.200"/>
</g>
<g filter="url(#f14_8)">
<path d="M406.65,86.00 L405.93,61.00 Q405.93,57.00 409.93,57.00 L417.43,57.00 Q421.43,57.00 421.43,61.00 L422.15,86.00 Z" fill="url(#sm7)"/>
<path d="M406.55,81.95 L422.05,81.95 L422.12,84.85 L406.62,84.85 Z" fill="#000" fill-opacity="0.600"/>
<path d="M406.71,88.55 L422.21,88.55 L422.30,92.05 L406.80,92.05 Z" fill="#000" fill-opacity="0.750"/>
<path d="M406.88,95.35 L422.38,95.35 L422.48,99.05 L406.98,99.05 Z" fill="#000" fill-opacity="0.820"/>
<path d="M407.05,102.05 L422.55,102.05 L422.65,105.95 L407.15,105.95 Z" fill="#000" fill-opacity="0.880"/>
<path d="M407.22,108.85 L422.72,108.85 L422.82,112.95 L407.32,112.95 Z" fill="#000" fill-opacity="0.920"/>
<path d="M407.41,116.45 L422.91,116.45 L423.02,120.75 L407.52,120.75 Z" fill="#000" fill-opacity="0.950"/>
<path d="M407.61,124.55 L423.11,124.55 L423.23,129.05 L407.73,129.05 Z" fill="#000" fill-opacity="0.970"/>
<path d="M407.80,131.85 L423.30,131.85 L423.41,136.55 L407.91,136.55 Z" fill="#000" fill-opacity="0.970"/>
<path d="M407.96,138.45 L423.46,138.45 L423.59,143.55 L408.09,143.55 Z" fill="#000" fill-opacity="0.970"/>
</g>
<g filter="url(#ftop)">
<path d="M406.06,62.25 L421.56,62.25 L421.59,63.75 L406.09,63.75 Z" fill="#000" fill-opacity="0.100"/>
<path d="M406.13,65.25 L421.63,65.25 L421.67,66.75 L406.17,66.75 Z" fill="#000" fill-opacity="0.150"/>
<path d="M406.21,68.25 L421.71,68.25 L421.74,69.75 L406.24,69.75 Z" fill="#000" fill-opacity="0.200"/>
<path d="M406.28,71.25 L421.78,71.25 L421.82,72.75 L406.32,72.75 Z" fill="#000" fill-opacity="0.250"/>
<path d="M406.36,74.25 L421.86,74.25 L421.89,75.75 L406.39,75.75 Z" fill="#000" fill-opacity="0.300"/>
<path d="M406.43,77.25 L421.93,77.25 L421.97,78.75 L406.47,78.75 Z" fill="#000" fill-opacity="0.350"/>
<path d="M406.51,80.25 L422.01,80.25 L422.04,81.75 L406.54,81.75 Z" fill="#000" fill-opacity="0.400"/>
</g>
<g filter="url(#f14_8)">
<path d="M427.50,141.50 L427.50,95.50 Q427.50,95.50 427.50,95.50 L443.00,95.50 Q443.00,95.50 443.00,95.50 L443.00,141.50 Z" fill="url(#lbg12)"/>
<path d="M427.50,90.35 L443.00,90.35 L443.00,93.65 L427.50,93.65 Z" fill="#000" fill-opacity="0.040"/>
<path d="M427.50,95.65 L443.00,95.65 L443.00,99.35 L427.50,99.35 Z" fill="#000" fill-opacity="0.100"/>
<path d="M427.50,101.95 L443.00,101.95 L443.00,106.05 L427.50,106.05 Z" fill="#000" fill-opacity="0.170"/>
<path d="M427.50,109.75 L443.00,109.75 L443.00,114.25 L427.50,114.25 Z" fill="#000" fill-opacity="0.300"/>
<path d="M427.50,117.75 L443.00,117.75 L443.00,122.65 L427.50,122.65 Z" fill="#000" fill-opacity="0.450"/>
<path d="M427.50,126.65 L443.00,126.65 L443.00,131.95 L427.50,131.95 Z" fill="#000" fill-opacity="0.680"/>
<path d="M427.50,135.75 L443.00,135.75 L443.00,141.25 L427.50,141.25 Z" fill="#000" fill-opacity="0.920"/>
</g>
<g filter="url(#f14_8)">
<path d="M445.00,141.50 L445.00,95.50 Q445.00,95.50 445.00,95.50 L459.50,95.50 Q459.50,95.50 459.50,95.50 L459.50,141.50 Z" fill="url(#lbg13)"/>
<path d="M445.00,90.35 L459.50,90.35 L459.50,93.65 L445.00,93.65 Z" fill="#000" fill-opacity="0.038"/>
<path d="M445.00,95.65 L459.50,95.65 L459.50,99.35 L445.00,99.35 Z" fill="#000" fill-opacity="0.095"/>
<path d="M445.00,101.95 L459.50,101.95 L459.50,106.05 L445.00,106.05 Z" fill="#000" fill-opacity="0.162"/>
<path d="M445.00,109.75 L459.50,109.75 L459.50,114.25 L445.00,114.25 Z" fill="#000" fill-opacity="0.285"/>
<path d="M445.00,117.75 L459.50,117.75 L459.50,122.65 L445.00,122.65 Z" fill="#000" fill-opacity="0.427"/>
<path d="M445.00,126.65 L459.50,126.65 L459.50,131.95 L445.00,131.95 Z" fill="#000" fill-opacity="0.646"/>
<path d="M445.00,135.75 L459.50,135.75 L459.50,141.25 L445.00,141.25 Z" fill="#000" fill-opacity="0.874"/>
</g>
<g filter="url(#f14_8)">
<path d="M463.00,141.50 L463.00,95.50 Q463.00,95.50 463.00,95.50 L478.50,95.50 Q478.50,95.50 478.50,95.50 L478.50,141.50 Z" fill="url(#lbg14)"/>
<path d="M463.00,90.35 L478.50,90.35 L478.50,93.65 L463.00,93.65 Z" fill="#000" fill-opacity="0.040"/>
<path d="M463.00,95.65 L478.50,95.65 L478.50,99.35 L463.00,99.35 Z" fill="#000" fill-opacity="0.100"/>
<path d="M463.00,101.95 L478.50,101.95 L478.50,106.05 L463.00,106.05 Z" fill="#000" fill-opacity="0.170"/>
<path d="M463.00,109.75 L478.50,109.75 L478.50,114.25 L463.00,114.25 Z" fill="#000" fill-opacity="0.300"/>
<path d="M463.00,117.75 L478.50,117.75 L478.50,122.65 L463.00,122.65 Z" fill="#000" fill-opacity="0.450"/>
<path d="M463.00,126.65 L478.50,126.65 L478.50,131.95 L463.00,131.95 Z" fill="#000" fill-opacity="0.680"/>
<path d="M463.00,135.75 L478.50,135.75 L478.50,141.25 L463.00,141.25 Z" fill="#000" fill-opacity="0.920"/>
</g>
<g filter="url(#f14_8)">
<path d="M480.50,141.50 L480.50,95.50 Q480.50,95.50 480.50,95.50 L495.00,95.50 Q495.00,95.50 495.00,95.50 L495.00,141.50 Z" fill="url(#lbg15)"/>
<path d="M480.50,90.35 L495.00,90.35 L495.00,93.65 L480.50,93.65 Z" fill="#000" fill-opacity="0.038"/>
<path d="M480.50,95.65 L495.00,95.65 L495.00,99.35 L480.50,99.35 Z" fill="#000" fill-opacity="0.095"/>
<path d="M480.50,101.95 L495.00,101.95 L495.00,106.05 L480.50,106.05 Z" fill="#000" fill-opacity="0.162"/>
<path d="M480.50,109.75 L495.00,109.75 L495.00,114.25 L480.50,114.25 Z" fill="#000" fill-opacity="0.285"/>
<path d="M480.50,117.75 L495.00,117.75 L495.00,122.65 L480.50,122.65 Z" fill="#000" fill-opacity="0.427"/>
<path d="M480.50,126.65 L495.00,126.65 L495.00,131.95 L480.50,131.95 Z" fill="#000" fill-opacity="0.646"/>
<path d="M480.50,135.75 L495.00,135.75 L495.00,141.25 L480.50,141.25 Z" fill="#000" fill-opacity="0.874"/>
</g>
<g filter="url(#f12_12)">
<rect x="386.00" y="142.50" width="110.00" height="10.00" fill="#000" fill-opacity="0.970" />
<rect x="496.50" y="147.50" width="15.50" height="4.50" fill="#000" fill-opacity="0.850" />
</g>
<line x1="8.5" y1="81" x2="511" y2="81" stroke="#000" stroke-width="2.2" stroke-dasharray="4 1.55"/>
<path d="M8.3,117.0 L12.4,110.0 L18.0,117.70 Q13.65,116.20 8.3,117.0 Z" fill="#111" filter="url(#b5)"/>
<path d="M32.3,117.2 L36.2,110.4 L41.2,117.90 Q37.25,116.40 32.3,117.2 Z" fill="#111" filter="url(#b5)"/>
<path d="M182.0,117.2 L185.6,110.4 L190.9,117.90 Q186.95,116.40 182.0,117.2 Z" fill="#111" filter="url(#b5)"/>
<path d="M207.4,117.6 L210.3,110.9 L216.5,118.30 Q212.45,116.80 207.4,117.6 Z" fill="#111" filter="url(#b5)"/>
<path d="M376.8,118.4 L380.8,111.8 L385.8,119.10 Q381.80,117.60 376.8,118.4 Z" fill="#111" filter="url(#b5)"/>
<path d="M401.5,118.6 L404.5,112.4 L410.0,119.30 Q406.25,117.80 401.5,118.6 Z" fill="#111" filter="url(#b5)"/>
<text x="12.6" y="17.2" font-size="11.2" font-weight="bold" font-style="normal" text-anchor="start" fill="#111" textLength="8" lengthAdjust="spacingAndGlyphs" >A</text>
<text x="27.6" y="17.2" font-size="10" font-weight="bold" font-style="normal" text-anchor="start" fill="#111" >i</text>
<text x="40.5" y="16.8" font-size="14" font-weight="normal" font-style="normal" text-anchor="start" fill="#111" textLength="58.5" lengthAdjust="spacingAndGlyphs" stroke="#111" stroke-width="0.3">Wild Type</text>
<text x="194.8" y="17.2" font-size="10" font-weight="bold" font-style="normal" text-anchor="start" fill="#111" >ii</text>
<text x="210.7" y="17" font-size="13.6" font-weight="normal" font-style="normal" text-anchor="start" fill="#111" textLength="47.8" lengthAdjust="spacingAndGlyphs" stroke="#111" stroke-width="0.3">R1205H</text>
<text x="371" y="17.4" font-size="10" font-weight="bold" font-style="normal" text-anchor="start" fill="#111" >iii</text>
<text x="390.3" y="17.2" font-size="13.6" font-weight="normal" font-style="normal" text-anchor="start" fill="#111" textLength="45.9" lengthAdjust="spacingAndGlyphs" stroke="#111" stroke-width="0.3">Y1584C</text>
<text x="31.4" y="169.2" font-size="9" font-weight="normal" font-style="normal" text-anchor="middle" fill="#111" textLength="16.9" lengthAdjust="spacingAndGlyphs" >CNP</text>
<text x="51.3" y="169.2" font-size="9" font-weight="normal" font-style="normal" text-anchor="middle" fill="#111" >2</text>
<text x="66" y="169.2" font-size="9" font-weight="normal" font-style="normal" text-anchor="middle" fill="#111" >5</text>
<text x="80.3" y="169.2" font-size="9" font-weight="normal" font-style="normal" text-anchor="middle" fill="#111" >8</text>
<text x="95.2" y="169.2" font-size="9" font-weight="normal" font-style="normal" text-anchor="middle" fill="#111" textLength="12.5" lengthAdjust="spacingAndGlyphs" >14*</text>
<text x="110.8" y="169.2" font-size="9" font-weight="normal" font-style="normal" text-anchor="middle" fill="#111" >21</text>
<text x="126" y="169.2" font-size="9" font-weight="normal" font-style="normal" text-anchor="middle" fill="#111" >28</text>
<text x="143" y="169.2" font-size="9" font-weight="normal" font-style="normal" text-anchor="middle" fill="#111" >35</text>
<text x="160" y="169.2" font-size="9" font-weight="normal" font-style="normal" text-anchor="middle" fill="#111" >42</text>
<text x="204.3" y="169.2" font-size="9" font-weight="normal" font-style="normal" text-anchor="middle" fill="#111" textLength="16.7" lengthAdjust="spacingAndGlyphs" >CNP</text>
<text x="226" y="169.2" font-size="9" font-weight="normal" font-style="normal" text-anchor="middle" fill="#111" >2</text>
<text x="242" y="169.2" font-size="9" font-weight="normal" font-style="normal" text-anchor="middle" fill="#111" >5</text>
<text x="260" y="169.2" font-size="9" font-weight="normal" font-style="normal" text-anchor="middle" fill="#111" >8</text>
<text x="278.2" y="169.2" font-size="9" font-weight="normal" font-style="normal" text-anchor="middle" fill="#111" >14</text>
<text x="296.2" y="169.2" font-size="9" font-weight="normal" font-style="normal" text-anchor="middle" fill="#111" >21</text>
<text x="315.5" y="169.2" font-size="9" font-weight="normal" font-style="normal" text-anchor="middle" fill="#111" >28</text>
<text x="332.3" y="169.2" font-size="9" font-weight="normal" font-style="normal" text-anchor="middle" fill="#111" >35</text>
<text x="349.8" y="169.2" font-size="9" font-weight="normal" font-style="normal" text-anchor="middle" fill="#111" >42</text>
<text x="398.2" y="169.2" font-size="9" font-weight="normal" font-style="normal" text-anchor="middle" fill="#111" textLength="16.5" lengthAdjust="spacingAndGlyphs" >CNP</text>
<text x="421" y="169.2" font-size="9" font-weight="normal" font-style="normal" text-anchor="middle" fill="#111" >2</text>
<text x="436" y="169.2" font-size="9" font-weight="normal" font-style="normal" text-anchor="middle" fill="#111" >5</text>
<text x="452" y="169.2" font-size="9" font-weight="normal" font-style="normal" text-anchor="middle" fill="#111" >8</text>
<text x="472" y="169.2" font-size="9" font-weight="normal" font-style="normal" text-anchor="middle" fill="#111" >14</text>
<text x="489.3" y="169.2" font-size="9" font-weight="normal" font-style="normal" text-anchor="middle" fill="#111" >21</text>
<text x="506" y="169.2" font-size="9" font-weight="normal" font-style="normal" text-anchor="middle" fill="#111" >28</text>
<g stroke="#222" stroke-width="1.3" fill="none">
<line x1="88.2" y1="222.90" x2="88.2" y2="374.6"/>
<line x1="82.5" y1="374" x2="312.3" y2="374"/>
<line x1="82.5" y1="343.90" x2="88.2" y2="343.90"/>
<line x1="82.5" y1="313.80" x2="88.2" y2="313.80"/>
<line x1="82.5" y1="283.70" x2="88.2" y2="283.70"/>
<line x1="82.5" y1="253.60" x2="88.2" y2="253.60"/>
<line x1="82.5" y1="223.50" x2="88.2" y2="223.50"/>
<line x1="98.30" y1="374" x2="98.30" y2="380.3"/>
<line x1="114.29" y1="374" x2="114.29" y2="380.3"/>
<line x1="130.28" y1="374" x2="130.28" y2="380.3"/>
<line x1="162.26" y1="374" x2="162.26" y2="380.3"/>
<line x1="199.57" y1="374" x2="199.57" y2="380.3"/>
<line x1="236.88" y1="374" x2="236.88" y2="380.3"/>
<line x1="274.19" y1="374" x2="274.19" y2="380.3"/>
<line x1="311.50" y1="374" x2="311.50" y2="380.3"/>
</g>
<text x="80.2" y="377.60" font-size="10" font-weight="bold" font-style="normal" text-anchor="end" fill="#111" >0</text>
<text x="80.2" y="347.50" font-size="10" font-weight="bold" font-style="normal" text-anchor="end" fill="#111" >5</text>
<text x="80.2" y="317.40" font-size="10" font-weight="bold" font-style="normal" text-anchor="end" fill="#111" >10</text>
<text x="80.2" y="287.30" font-size="10" font-weight="bold" font-style="normal" text-anchor="end" fill="#111" >15</text>
<text x="80.2" y="257.20" font-size="10" font-weight="bold" font-style="normal" text-anchor="end" fill="#111" >20</text>
<text x="80.2" y="227.10" font-size="10" font-weight="bold" font-style="normal" text-anchor="end" fill="#111" >25</text>
<text x="98.30" y="392" font-size="10" font-weight="bold" font-style="normal" text-anchor="middle" fill="#111" >2</text>
<text x="114.29" y="392" font-size="10" font-weight="bold" font-style="normal" text-anchor="middle" fill="#111" >5</text>
<text x="130.28" y="392" font-size="10" font-weight="bold" font-style="normal" text-anchor="middle" fill="#111" >8</text>
<text x="162.26" y="392" font-size="10" font-weight="bold" font-style="normal" text-anchor="middle" fill="#111" >14</text>
<text x="199.57" y="392" font-size="10" font-weight="bold" font-style="normal" text-anchor="middle" fill="#111" >21</text>
<text x="236.88" y="392" font-size="10" font-weight="bold" font-style="normal" text-anchor="middle" fill="#111" >28</text>
<text x="274.19" y="392" font-size="10" font-weight="bold" font-style="normal" text-anchor="middle" fill="#111" >35</text>
<text x="311.50" y="392" font-size="10" font-weight="bold" font-style="normal" text-anchor="middle" fill="#111" >42</text>
<text x="50.8" y="192.4" font-size="12" font-weight="bold" font-style="normal" text-anchor="start" fill="#111" textLength="7.6" lengthAdjust="spacingAndGlyphs" >B</text>
<text x="166.2" y="204.5" font-size="10.5" font-weight="bold" font-style="italic" text-anchor="start" fill="#111" textLength="19.5" lengthAdjust="spacingAndGlyphs" >Vwf</text>
<text x="187.4" y="204.5" font-size="10.5" font-weight="bold" font-style="normal" text-anchor="start" fill="#111" textLength="60.4" lengthAdjust="spacingAndGlyphs" >cDNA Alone</text>
<text x="152.3" y="413" font-size="11" font-weight="bold" font-style="normal" text-anchor="start" fill="#111" textLength="99.7" lengthAdjust="spacingAndGlyphs" >Days Post Injection</text>
<text transform="translate(58.2,297.1) rotate(-90)" font-size="11.3" font-weight="bold" text-anchor="middle" fill="#111" textLength="75.2" lengthAdjust="spacingAndGlyphs">Multimer Bands</text>
<polyline points="98.30,248.78 114.29,297.55 130.28,298.75 162.26,334.87 199.57,340.89 236.88,355.94 274.19,358.95 311.50,355.94" fill="none" stroke="#111" stroke-width="1.3" stroke-dasharray="1.3 1.4"/>
<g stroke="#222" stroke-width="1.1">
<line x1="98.30" y1="243.97" x2="98.30" y2="253.60"/>
<line x1="96.10" y1="243.97" x2="100.50" y2="243.97"/>
<line x1="96.10" y1="253.60" x2="100.50" y2="253.60"/>
<line x1="114.29" y1="288.52" x2="114.29" y2="306.58"/>
<line x1="112.09" y1="288.52" x2="116.49" y2="288.52"/>
<line x1="112.09" y1="306.58" x2="116.49" y2="306.58"/>
<line x1="130.28" y1="291.53" x2="130.28" y2="305.97"/>
<line x1="128.08" y1="291.53" x2="132.48" y2="291.53"/>
<line x1="128.08" y1="305.97" x2="132.48" y2="305.97"/>
<line x1="162.26" y1="324.03" x2="162.26" y2="345.71"/>
<line x1="160.06" y1="324.03" x2="164.46" y2="324.03"/>
<line x1="160.06" y1="345.71" x2="164.46" y2="345.71"/>
<line x1="199.57" y1="325.24" x2="199.57" y2="356.54"/>
<line x1="197.37" y1="325.24" x2="201.77" y2="325.24"/>
<line x1="197.37" y1="356.54" x2="201.77" y2="356.54"/>
<line x1="236.88" y1="351.12" x2="236.88" y2="360.76"/>
<line x1="234.68" y1="351.12" x2="239.08" y2="351.12"/>
<line x1="234.68" y1="360.76" x2="239.08" y2="360.76"/>
<line x1="274.19" y1="351.73" x2="274.19" y2="366.17"/>
<line x1="271.99" y1="351.73" x2="276.39" y2="351.73"/>
<line x1="271.99" y1="366.17" x2="276.39" y2="366.17"/>
<line x1="311.50" y1="346.91" x2="311.50" y2="364.97"/>
<line x1="309.30" y1="346.91" x2="313.70" y2="346.91"/>
<line x1="309.30" y1="364.97" x2="313.70" y2="364.97"/>
</g>
<circle cx="98.30" cy="248.78" r="2.40" fill="#fff" stroke="#111" stroke-width="1.4"/>
<circle cx="114.29" cy="297.55" r="2.40" fill="#fff" stroke="#111" stroke-width="1.4"/>
<circle cx="130.28" cy="298.75" r="2.40" fill="#fff" stroke="#111" stroke-width="1.4"/>
<circle cx="162.26" cy="334.87" r="2.40" fill="#fff" stroke="#111" stroke-width="1.4"/>
<circle cx="199.57" cy="340.89" r="2.40" fill="#fff" stroke="#111" stroke-width="1.4"/>
<circle cx="236.88" cy="355.94" r="2.40" fill="#fff" stroke="#111" stroke-width="1.4"/>
<circle cx="274.19" cy="358.95" r="2.40" fill="#fff" stroke="#111" stroke-width="1.4"/>
<circle cx="311.50" cy="355.94" r="2.40" fill="#fff" stroke="#111" stroke-width="1.4"/>
<polyline points="98.30,239.75 114.29,283.70 130.28,293.33 162.26,305.37 199.57,318.62 236.88,327.04 274.19,325.24 311.50,342.09" fill="none" stroke="#111" stroke-width="1.3" stroke-dasharray="3.6 1.8"/>
<g stroke="#222" stroke-width="1.1">
<line x1="98.30" y1="236.74" x2="98.30" y2="242.76"/>
<line x1="96.10" y1="236.74" x2="100.50" y2="236.74"/>
<line x1="96.10" y1="242.76" x2="100.50" y2="242.76"/>
<line x1="114.29" y1="274.67" x2="114.29" y2="292.73"/>
<line x1="112.09" y1="274.67" x2="116.49" y2="274.67"/>
<line x1="112.09" y1="292.73" x2="116.49" y2="292.73"/>
<line x1="130.28" y1="288.52" x2="130.28" y2="298.15"/>
<line x1="128.08" y1="288.52" x2="132.48" y2="288.52"/>
<line x1="128.08" y1="298.15" x2="132.48" y2="298.15"/>
<line x1="162.26" y1="299.35" x2="162.26" y2="311.39"/>
<line x1="160.06" y1="299.35" x2="164.46" y2="299.35"/>
<line x1="160.06" y1="311.39" x2="164.46" y2="311.39"/>
<line x1="199.57" y1="303.57" x2="199.57" y2="333.67"/>
<line x1="197.37" y1="303.57" x2="201.77" y2="303.57"/>
<line x1="197.37" y1="333.67" x2="201.77" y2="333.67"/>
<line x1="236.88" y1="310.19" x2="236.88" y2="343.90"/>
<line x1="234.68" y1="310.19" x2="239.08" y2="310.19"/>
<line x1="234.68" y1="343.90" x2="239.08" y2="343.90"/>
<line x1="274.19" y1="317.41" x2="274.19" y2="333.06"/>
<line x1="271.99" y1="317.41" x2="276.39" y2="317.41"/>
<line x1="271.99" y1="333.06" x2="276.39" y2="333.06"/>
<line x1="311.50" y1="328.85" x2="311.50" y2="355.34"/>
<line x1="309.30" y1="328.85" x2="313.70" y2="328.85"/>
<line x1="309.30" y1="355.34" x2="313.70" y2="355.34"/>
</g>
<polygon points="98.30,236.30 101.75,242.34 94.85,242.34" fill="#111"/>
<polygon points="114.29,280.25 117.74,286.29 110.84,286.29" fill="#111"/>
<polygon points="130.28,289.88 133.73,295.92 126.83,295.92" fill="#111"/>
<polygon points="162.26,301.92 165.71,307.96 158.81,307.96" fill="#111"/>
<polygon points="199.57,315.17 203.02,321.20 196.12,321.20" fill="#111"/>
<polygon points="236.88,323.59 240.33,329.63 233.43,329.63" fill="#111"/>
<polygon points="274.19,321.79 277.64,327.83 270.74,327.83" fill="#111"/>
<polygon points="311.50,338.64 314.95,344.68 308.05,344.68" fill="#111"/>
<polyline points="98.30,240.96 114.29,278.88 130.28,310.79 162.26,298.15 199.57,308.38 236.88,322.53 274.19,314.40 311.50,312.60" fill="none" stroke="#111" stroke-width="1.3"/>
<g stroke="#222" stroke-width="1.1">
<line x1="98.30" y1="237.35" x2="98.30" y2="244.57"/>
<line x1="96.10" y1="237.35" x2="100.50" y2="237.35"/>
<line x1="96.10" y1="244.57" x2="100.50" y2="244.57"/>
<line x1="114.29" y1="266.84" x2="114.29" y2="290.92"/>
<line x1="112.09" y1="266.84" x2="116.49" y2="266.84"/>
<line x1="112.09" y1="290.92" x2="116.49" y2="290.92"/>
<line x1="130.28" y1="307.78" x2="130.28" y2="313.80"/>
<line x1="128.08" y1="307.78" x2="132.48" y2="307.78"/>
<line x1="128.08" y1="313.80" x2="132.48" y2="313.80"/>
<line x1="162.26" y1="290.92" x2="162.26" y2="305.37"/>
<line x1="160.06" y1="290.92" x2="164.46" y2="290.92"/>
<line x1="160.06" y1="305.37" x2="164.46" y2="305.37"/>
<line x1="199.57" y1="301.16" x2="199.57" y2="315.61"/>
<line x1="197.37" y1="301.16" x2="201.77" y2="301.16"/>
<line x1="197.37" y1="315.61" x2="201.77" y2="315.61"/>
<line x1="236.88" y1="311.69" x2="236.88" y2="333.37"/>
<line x1="234.68" y1="311.69" x2="239.08" y2="311.69"/>
<line x1="234.68" y1="333.37" x2="239.08" y2="333.37"/>
<line x1="274.19" y1="310.79" x2="274.19" y2="318.01"/>
<line x1="271.99" y1="310.79" x2="276.39" y2="310.79"/>
<line x1="271.99" y1="318.01" x2="276.39" y2="318.01"/>
<line x1="311.50" y1="305.37" x2="311.50" y2="319.82"/>
<line x1="309.30" y1="305.37" x2="313.70" y2="305.37"/>
<line x1="309.30" y1="319.82" x2="313.70" y2="319.82"/>
</g>
<rect x="95.30" y="237.96" width="6.00" height="6.00" fill="#111"/>
<rect x="111.29" y="275.88" width="6.00" height="6.00" fill="#111"/>
<rect x="127.28" y="307.79" width="6.00" height="6.00" fill="#111"/>
<rect x="159.26" y="295.15" width="6.00" height="6.00" fill="#111"/>
<rect x="196.57" y="305.38" width="6.00" height="6.00" fill="#111"/>
<rect x="233.88" y="319.53" width="6.00" height="6.00" fill="#111"/>
<rect x="271.19" y="311.40" width="6.00" height="6.00" fill="#111"/>
<rect x="308.50" y="309.60" width="6.00" height="6.00" fill="#111"/>
<line x1="125" y1="234" x2="154.6" y2="234" stroke="#111" stroke-width="1.2"/>
<rect x="137.30" y="231.30" width="5.40" height="5.40" fill="#111"/>
<line x1="127" y1="248" x2="155.2" y2="248" stroke="#111" stroke-width="1.2" stroke-dasharray="2.6 1.3"/>
<polygon points="142.00,245.08 145.22,250.72 138.78,250.72" fill="#111"/>
<line x1="123.6" y1="266.2" x2="154.6" y2="266.2" stroke="#111" stroke-width="1.2" stroke-dasharray="1.2 1.2"/>
<circle cx="139.10" cy="266.20" r="2.30" fill="#fff" stroke="#111" stroke-width="1.4"/>
<text x="158.8" y="237.6" font-size="10" font-weight="normal" font-style="normal" text-anchor="start" fill="#111" textLength="46.2" lengthAdjust="spacingAndGlyphs" >Wild Type</text>
<text x="160.6" y="252" font-size="10" font-weight="normal" font-style="normal" text-anchor="start" fill="#111" textLength="38" lengthAdjust="spacingAndGlyphs" >R1205H</text>
<text x="157.6" y="269.7" font-size="10" font-weight="normal" font-style="normal" text-anchor="start" fill="#111" textLength="39" lengthAdjust="spacingAndGlyphs" >Y1584C</text>
<g stroke="#222" stroke-width="1.3" fill="none">
<line x1="367" y1="225.90" x2="367" y2="374.1"/>
<line x1="361.4" y1="373.5" x2="465.6" y2="373.5"/>
<line x1="361.4" y1="344.10" x2="367" y2="344.10"/>
<line x1="361.4" y1="314.70" x2="367" y2="314.70"/>
<line x1="361.4" y1="285.30" x2="367" y2="285.30"/>
<line x1="361.4" y1="255.90" x2="367" y2="255.90"/>
<line x1="361.4" y1="226.50" x2="367" y2="226.50"/>
<line x1="377.00" y1="373.5" x2="377.00" y2="379.8"/>
<line x1="406.40" y1="373.5" x2="406.40" y2="379.8"/>
<line x1="465.20" y1="373.5" x2="465.20" y2="379.8"/>
</g>
<text x="359.6" y="377.10" font-size="10" font-weight="bold" font-style="normal" text-anchor="end" fill="#111" >0.0</text>
<text x="359.6" y="347.70" font-size="10" font-weight="bold" font-style="normal" text-anchor="end" fill="#111" >2.5</text>
<text x="359.6" y="318.30" font-size="10" font-weight="bold" font-style="normal" text-anchor="end" fill="#111" >5.0</text>
<text x="359.6" y="288.90" font-size="10" font-weight="bold" font-style="normal" text-anchor="end" fill="#111" >7.5</text>
<text x="359.6" y="259.50" font-size="10" font-weight="bold" font-style="normal" text-anchor="end" fill="#111" >10.0</text>
<text x="359.6" y="230.10" font-size="10" font-weight="bold" font-style="normal" text-anchor="end" fill="#111" >12.5</text>
<text x="377.00" y="391.5" font-size="10" font-weight="bold" font-style="normal" text-anchor="middle" fill="#111" >5</text>
<text x="406.40" y="391.5" font-size="10" font-weight="bold" font-style="normal" text-anchor="middle" fill="#111" >8</text>
<text x="465.20" y="391.5" font-size="10" font-weight="bold" font-style="normal" text-anchor="middle" fill="#111" >14</text>
<text x="340.8" y="193.8" font-size="12.5" font-weight="bold" font-style="normal" text-anchor="start" fill="#111" textLength="7.5" lengthAdjust="spacingAndGlyphs" >C</text>
<text x="387.3" y="192.3" font-size="10.5" font-weight="bold" font-style="italic" text-anchor="start" fill="#111" textLength="71.9" lengthAdjust="spacingAndGlyphs" >Vwf-Adamts13</text>
<text x="360.4" y="207.3" font-size="10.5" font-weight="bold" font-style="normal" text-anchor="start" fill="#111" textLength="106.9" lengthAdjust="spacingAndGlyphs" >cDNA Co-Expression</text>
<text x="370" y="412.5" font-size="11" font-weight="bold" font-style="normal" text-anchor="start" fill="#111" textLength="99" lengthAdjust="spacingAndGlyphs" >Days Post Injection</text>
<polyline points="377.00,302.94 406.40,312.35 465.20,327.05" fill="none" stroke="#111" stroke-width="1.3" stroke-dasharray="1.3 1.4"/>
<g stroke="#222" stroke-width="1.1">
<line x1="377.00" y1="298.24" x2="377.00" y2="307.64"/>
<line x1="374.80" y1="298.24" x2="379.20" y2="298.24"/>
<line x1="374.80" y1="307.64" x2="379.20" y2="307.64"/>
<line x1="406.40" y1="305.88" x2="406.40" y2="318.82"/>
<line x1="404.20" y1="305.88" x2="408.60" y2="305.88"/>
<line x1="404.20" y1="318.82" x2="408.60" y2="318.82"/>
<line x1="465.20" y1="309.41" x2="465.20" y2="344.69"/>
<line x1="463.00" y1="309.41" x2="467.40" y2="309.41"/>
<line x1="463.00" y1="344.69" x2="467.40" y2="344.69"/>
</g>
<circle cx="377.00" cy="302.94" r="2.40" fill="#fff" stroke="#111" stroke-width="1.4"/>
<circle cx="406.40" cy="312.35" r="2.40" fill="#fff" stroke="#111" stroke-width="1.4"/>
<circle cx="465.20" cy="327.05" r="2.40" fill="#fff" stroke="#111" stroke-width="1.4"/>
<polyline points="377.00,269.42 406.40,252.37 465.20,240.61" fill="none" stroke="#111" stroke-width="1.3" stroke-dasharray="3.6 1.8"/>
<g stroke="#222" stroke-width="1.1">
<line x1="377.00" y1="263.54" x2="377.00" y2="275.30"/>
<line x1="374.80" y1="263.54" x2="379.20" y2="263.54"/>
<line x1="374.80" y1="275.30" x2="379.20" y2="275.30"/>
<line x1="406.40" y1="238.26" x2="406.40" y2="266.48"/>
<line x1="404.20" y1="238.26" x2="408.60" y2="238.26"/>
<line x1="404.20" y1="266.48" x2="408.60" y2="266.48"/>
<line x1="465.20" y1="237.08" x2="465.20" y2="244.14"/>
<line x1="463.00" y1="237.08" x2="467.40" y2="237.08"/>
<line x1="463.00" y1="244.14" x2="467.40" y2="244.14"/>
</g>
<circle cx="377.00" cy="269.42" r="3.00" fill="#111"/>
<polygon points="406.40,249.37 409.40,254.62 403.40,254.62" fill="#fff" stroke="#111" stroke-width="1.7" stroke-linejoin="round"/>
<polygon points="465.20,237.61 468.20,242.86 462.20,242.86" fill="#fff" stroke="#111" stroke-width="1.7" stroke-linejoin="round"/>
<polyline points="377.00,263.54 406.40,264.72 465.20,261.78" fill="none" stroke="#111" stroke-width="1.3"/>
<g stroke="#222" stroke-width="1.1">
<line x1="377.00" y1="257.66" x2="377.00" y2="269.42"/>
<line x1="374.80" y1="257.66" x2="379.20" y2="257.66"/>
<line x1="374.80" y1="269.42" x2="379.20" y2="269.42"/>
<line x1="406.40" y1="254.14" x2="406.40" y2="275.30"/>
<line x1="404.20" y1="254.14" x2="408.60" y2="254.14"/>
<line x1="404.20" y1="275.30" x2="408.60" y2="275.30"/>
<line x1="465.20" y1="256.49" x2="465.20" y2="267.07"/>
<line x1="463.00" y1="256.49" x2="467.40" y2="256.49"/>
<line x1="463.00" y1="267.07" x2="467.40" y2="267.07"/>
</g>
<rect x="374.00" y="260.54" width="6.00" height="6.00" fill="#111"/>
<rect x="403.40" y="261.72" width="6.00" height="6.00" fill="#111"/>
<rect x="462.20" y="258.78" width="6.00" height="6.00" fill="#111"/></svg>
</body></html>
